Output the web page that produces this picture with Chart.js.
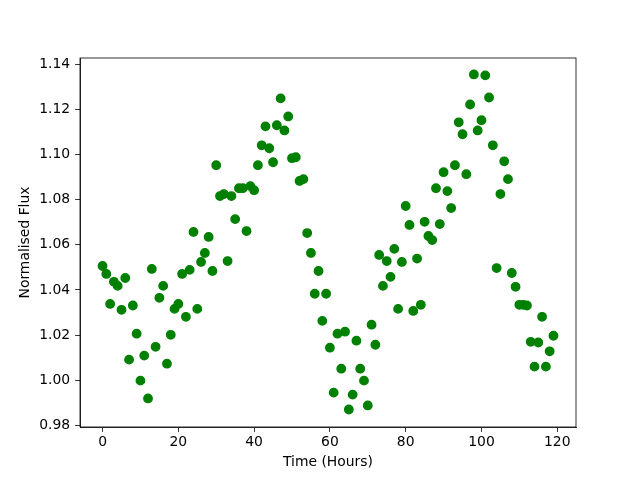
<!DOCTYPE html>
<html>
<head>
<meta charset="utf-8">
<script src="https://cdn.jsdelivr.net/npm/chart.js@4/dist/chart.umd.min.js"></script>
<style>
  html, body { margin: 0; padding: 0; background: #ffffff; }
  canvas { display: block; }
</style>
</head>
<body>
<canvas id="c" width="640" height="480"></canvas>
<script>
const timeHours = [
  0, 1, 2, 3, 4, 5, 6, 7, 8, 9,
  10, 11, 12, 13, 14, 15, 16, 17, 18, 19,
  20, 21, 22, 23, 24, 25, 26, 27, 28, 29,
  30, 31, 32, 33, 34, 35, 36, 37, 38, 39,
  40, 41, 42, 43, 44, 45, 46, 47, 48, 49,
  50, 51, 52, 53, 54, 55, 56, 57, 58, 59,
  60, 61, 62, 63, 64, 65, 66, 67, 68, 69,
  70, 71, 72, 73, 74, 75, 76, 77, 78, 79,
  80, 81, 82, 83, 84, 85, 86, 87, 88, 89,
  90, 91, 92, 93, 94, 95, 96, 97, 98, 99,
  100, 101, 102, 103, 104, 105, 106, 107, 108, 109,
  110, 111, 112, 113, 114, 115, 116, 117, 118, 119
];
const normalisedFlux = [
  1.0506, 1.0471, 1.0338, 1.0436, 1.0418, 1.0312, 1.0453, 1.0091, 1.0331, 1.0206,
  0.9998, 1.0109, 0.9919, 1.0493, 1.0148, 1.0365, 1.0418, 1.0073, 1.0201, 1.0316,
  1.0338, 1.0471, 1.0281, 1.0489, 1.0657, 1.0316, 1.0524, 1.0564, 1.0635, 1.0484,
  1.0953, 1.0816, 1.0825, 1.0528, 1.0816, 1.0714, 1.0851, 1.0851, 1.0661, 1.0860,
  1.0842, 1.0953, 1.1041, 1.1125, 1.1028, 1.0966, 1.1130, 1.1249, 1.1107, 1.1169,
  1.0984, 1.0988, 1.0883, 1.0891, 1.0652, 1.0564, 1.0383, 1.0484, 1.0263, 1.0383,
  1.0144, 0.9945, 1.0206, 1.0051, 1.0215, 0.9870, 0.9936, 1.0175, 1.0051, 0.9998,
  0.9888, 1.0246, 1.0157, 1.0555, 1.0418, 1.0528, 1.0458, 1.0582, 1.0316, 1.0524,
  1.0772, 1.0688, 1.0307, 1.0539, 1.0334, 1.0702, 1.0639, 1.0621, 1.0851, 1.0692,
  1.0922, 1.0838, 1.0763, 1.0953, 1.1143, 1.1090, 1.0913, 1.1222, 1.1355, 1.1107,
  1.1152, 1.1351, 1.1253, 1.1041, 1.0497, 1.0825, 1.0970, 1.0891, 1.0475, 1.0414,
  1.0334, 1.0334, 1.0331, 1.0170, 1.0060, 1.0167, 1.0281, 1.0060, 1.0128, 1.0197
];
const xTickValues = [0, 20, 40, 60, 80, 100, 120];
const yTickValues = [0.98, 1.00, 1.02, 1.04, 1.06, 1.08, 1.10, 1.12, 1.14];

const points = timeHours.map((t, i) => ({ x: t, y: normalisedFlux[i] }));
const FONT = { family: 'DejaVu Sans', size: 13.9 };

const frame = {
  id: 'frame',
  afterDraw(chart) {
    const a = chart.chartArea, ctx = chart.ctx;
    ctx.save();
    ctx.strokeStyle = '#000000';
    ctx.lineWidth = 0.8;
    ctx.strokeRect(a.left, a.top, a.right - a.left, a.bottom - a.top);
    ctx.restore();
  }
};

new Chart(document.getElementById('c'), {
  type: 'scatter',
  data: {
    datasets: [{
      data: points,
      backgroundColor: '#008000',
      borderColor: '#008000',
      pointRadius: 4.2,
      pointBorderWidth: 1.4,
      pointHoverRadius: 4.2
    }]
  },
  options: {
    responsive: false,
    animation: false,
    devicePixelRatio: 1,
    events: [],
    layout: { padding: { left: 0, right: 64, top: 58, bottom: 0 } },
    plugins: { legend: { display: false }, tooltip: { enabled: false } },
    scales: {
      x: {
        type: 'linear',
        position: 'bottom',
        min: -5.95,
        max: 124.95,
        afterFit(s) { s.height = 53; },
        afterBuildTicks(s) { s.ticks = xTickValues.map(v => ({ value: v })); },
        grid: { drawOnChartArea: false, drawTicks: true, tickLength: 4.9, tickWidth: 0.8, tickColor: '#000000' },
        border: { display: true, color: '#000000', width: 0.8 },
        ticks: { font: FONT, color: '#000000', padding: 2, maxRotation: 0, autoSkip: false,
                 callback: v => String(v) },
        title: { display: true, text: 'Time (Hours)', font: FONT, color: '#000000', padding: { top: 0, bottom: 9 } }
      },
      y: {
        type: 'linear',
        position: 'left',
        min: 0.97925,
        max: 1.1428,
        afterFit(s) { s.width = 80; },
        afterBuildTicks(s) { s.ticks = yTickValues.map(v => ({ value: v })); },
        grid: { drawOnChartArea: false, drawTicks: true, tickLength: 4.9, tickWidth: 0.8, tickColor: '#000000' },
        border: { display: true, color: '#000000', width: 0.8 },
        ticks: { font: FONT, color: '#000000', padding: 4.9, autoSkip: false,
                 callback: v => Number(v).toFixed(2) },
        title: { display: true, text: 'Normalised Flux', font: FONT, color: '#000000', padding: { top: 17.2, bottom: 0 } }
      }
    }
  },
  plugins: [frame]
});
</script>
</body>
</html>
